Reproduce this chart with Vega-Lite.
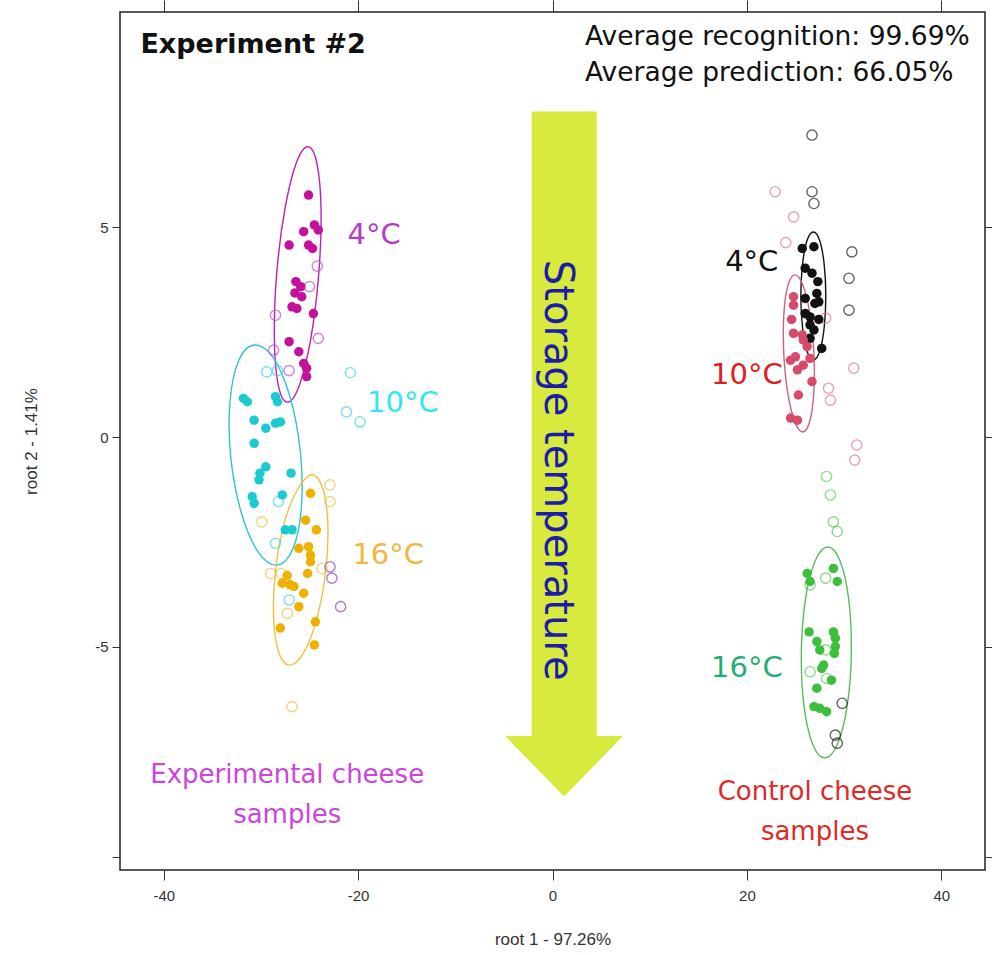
{
  "$schema": "https://vega.github.io/schema/vega-lite/v6.json",
  "width": 865,
  "height": 858,
  "autosize": {"type": "none"},
  "padding": {"left": 120, "top": 12, "right": 7, "bottom": 85},
  "background": "white",
  "config": {"view": {"stroke": "#222222", "strokeWidth": 1.5}, "font": "Liberation Sans"},
  "datasets": {
    "pts": [
      {"x": -25.1, "y": 5.76, "grp": "exp4", "set": "train"},
      {"x": -24.5, "y": 5.05, "grp": "exp4", "set": "train"},
      {"x": -24.1, "y": 4.93, "grp": "exp4", "set": "train"},
      {"x": -25.6, "y": 4.89, "grp": "exp4", "set": "train"},
      {"x": -27.1, "y": 4.57, "grp": "exp4", "set": "train"},
      {"x": -25.1, "y": 4.57, "grp": "exp4", "set": "train"},
      {"x": -24.7, "y": 4.49, "grp": "exp4", "set": "train"},
      {"x": -26.4, "y": 3.70, "grp": "exp4", "set": "train"},
      {"x": -25.9, "y": 3.58, "grp": "exp4", "set": "train"},
      {"x": -26.5, "y": 3.43, "grp": "exp4", "set": "train"},
      {"x": -25.8, "y": 3.34, "grp": "exp4", "set": "train"},
      {"x": -26.8, "y": 3.10, "grp": "exp4", "set": "train"},
      {"x": -26.3, "y": 3.06, "grp": "exp4", "set": "train"},
      {"x": -24.6, "y": 2.94, "grp": "exp4", "set": "train"},
      {"x": -27.1, "y": 2.27, "grp": "exp4", "set": "train"},
      {"x": -26.1, "y": 2.03, "grp": "exp4", "set": "train"},
      {"x": -25.6, "y": 1.75, "grp": "exp4", "set": "train"},
      {"x": -25.3, "y": 1.64, "grp": "exp4", "set": "train"},
      {"x": -25.3, "y": 1.44, "grp": "exp4", "set": "train"},
      {"x": -24.2, "y": 4.07, "grp": "exp4", "set": "test"},
      {"x": -25.0, "y": 3.58, "grp": "exp4", "set": "test"},
      {"x": -28.5, "y": 2.90, "grp": "exp4", "set": "test"},
      {"x": -24.1, "y": 2.35, "grp": "exp4", "set": "test"},
      {"x": -28.7, "y": 2.07, "grp": "exp4", "set": "test"},
      {"x": -27.1, "y": 1.58, "grp": "exp4", "set": "test"},
      {"x": -22.9, "y": -3.09, "grp": "exp4p", "set": "test"},
      {"x": -22.7, "y": -3.36, "grp": "exp4p", "set": "test"},
      {"x": -21.8, "y": -4.04, "grp": "exp4p", "set": "test"},
      {"x": -31.8, "y": 0.92, "grp": "exp10", "set": "train"},
      {"x": -31.4, "y": 0.84, "grp": "exp10", "set": "train"},
      {"x": -28.5, "y": 0.96, "grp": "exp10", "set": "train"},
      {"x": -28.3, "y": 0.84, "grp": "exp10", "set": "train"},
      {"x": -30.7, "y": 0.40, "grp": "exp10", "set": "train"},
      {"x": -29.5, "y": 0.21, "grp": "exp10", "set": "train"},
      {"x": -28.5, "y": 0.33, "grp": "exp10", "set": "train"},
      {"x": -28.0, "y": 0.36, "grp": "exp10", "set": "train"},
      {"x": -30.7, "y": -0.15, "grp": "exp10", "set": "train"},
      {"x": -29.5, "y": -0.71, "grp": "exp10", "set": "train"},
      {"x": -30.1, "y": -0.86, "grp": "exp10", "set": "train"},
      {"x": -30.2, "y": -1.02, "grp": "exp10", "set": "train"},
      {"x": -26.9, "y": -0.86, "grp": "exp10", "set": "train"},
      {"x": -30.9, "y": -1.42, "grp": "exp10", "set": "train"},
      {"x": -30.7, "y": -1.58, "grp": "exp10", "set": "train"},
      {"x": -27.8, "y": -1.38, "grp": "exp10", "set": "train"},
      {"x": -27.5, "y": -2.21, "grp": "exp10", "set": "train"},
      {"x": -26.8, "y": -2.21, "grp": "exp10", "set": "train"},
      {"x": -20.8, "y": 1.53, "grp": "exp10", "set": "test"},
      {"x": -21.2, "y": 0.60, "grp": "exp10", "set": "test"},
      {"x": -19.8, "y": 0.36, "grp": "exp10", "set": "test"},
      {"x": -29.4, "y": 1.55, "grp": "exp10", "set": "test"},
      {"x": -28.3, "y": 1.58, "grp": "exp10", "set": "test"},
      {"x": -28.2, "y": -1.54, "grp": "exp10", "set": "test"},
      {"x": -28.5, "y": -2.53, "grp": "exp10", "set": "test"},
      {"x": -27.1, "y": -3.88, "grp": "exp10", "set": "test"},
      {"x": -24.9, "y": -1.34, "grp": "exp16", "set": "train"},
      {"x": -25.4, "y": -1.98, "grp": "exp16", "set": "train"},
      {"x": -24.3, "y": -2.21, "grp": "exp16", "set": "train"},
      {"x": -26.1, "y": -2.65, "grp": "exp16", "set": "train"},
      {"x": -25.1, "y": -2.61, "grp": "exp16", "set": "train"},
      {"x": -24.9, "y": -2.81, "grp": "exp16", "set": "train"},
      {"x": -24.9, "y": -2.97, "grp": "exp16", "set": "train"},
      {"x": -27.8, "y": -3.48, "grp": "exp16", "set": "train"},
      {"x": -27.0, "y": -3.52, "grp": "exp16", "set": "train"},
      {"x": -26.6, "y": -3.56, "grp": "exp16", "set": "train"},
      {"x": -25.6, "y": -3.72, "grp": "exp16", "set": "train"},
      {"x": -26.1, "y": -4.04, "grp": "exp16", "set": "train"},
      {"x": -28.0, "y": -4.55, "grp": "exp16", "set": "train"},
      {"x": -24.4, "y": -4.40, "grp": "exp16", "set": "train"},
      {"x": -24.5, "y": -4.95, "grp": "exp16", "set": "train"},
      {"x": -27.3, "y": -3.30, "grp": "exp16", "set": "train"},
      {"x": -25.2, "y": -3.25, "grp": "exp16", "set": "train"},
      {"x": -22.9, "y": -1.14, "grp": "exp16", "set": "test"},
      {"x": -22.9, "y": -1.54, "grp": "exp16", "set": "test"},
      {"x": -29.0, "y": -3.25, "grp": "exp16", "set": "test"},
      {"x": -23.7, "y": -3.13, "grp": "exp16", "set": "test"},
      {"x": -27.3, "y": -4.20, "grp": "exp16", "set": "test"},
      {"x": -26.8, "y": -6.42, "grp": "exp16", "set": "test"},
      {"x": -29.9, "y": -2.02, "grp": "exp16", "set": "test"},
      {"x": -27.9, "y": -3.25, "grp": "exp16", "set": "test"},
      {"x": 25.7, "y": 4.49, "grp": "ctl4", "set": "train"},
      {"x": 26.9, "y": 4.53, "grp": "ctl4", "set": "train"},
      {"x": 26.0, "y": 4.02, "grp": "ctl4", "set": "train"},
      {"x": 26.7, "y": 3.90, "grp": "ctl4", "set": "train"},
      {"x": 27.3, "y": 3.70, "grp": "ctl4", "set": "train"},
      {"x": 27.2, "y": 3.42, "grp": "ctl4", "set": "train"},
      {"x": 26.0, "y": 3.30, "grp": "ctl4", "set": "train"},
      {"x": 27.0, "y": 3.18, "grp": "ctl4", "set": "train"},
      {"x": 27.4, "y": 3.22, "grp": "ctl4", "set": "train"},
      {"x": 26.0, "y": 2.94, "grp": "ctl4", "set": "train"},
      {"x": 26.5, "y": 2.86, "grp": "ctl4", "set": "train"},
      {"x": 27.4, "y": 2.80, "grp": "ctl4", "set": "train"},
      {"x": 26.5, "y": 2.67, "grp": "ctl4", "set": "train"},
      {"x": 26.9, "y": 2.55, "grp": "ctl4", "set": "train"},
      {"x": 26.5, "y": 2.35, "grp": "ctl4", "set": "train"},
      {"x": 27.7, "y": 2.11, "grp": "ctl4", "set": "train"},
      {"x": 26.7, "y": 7.19, "grp": "ctl4", "set": "test"},
      {"x": 26.7, "y": 5.84, "grp": "ctl4", "set": "test"},
      {"x": 26.9, "y": 5.56, "grp": "ctl4", "set": "test"},
      {"x": 30.8, "y": 4.41, "grp": "ctl4", "set": "test"},
      {"x": 30.5, "y": 3.78, "grp": "ctl4", "set": "test"},
      {"x": 30.5, "y": 3.02, "grp": "ctl4", "set": "test"},
      {"x": 29.8, "y": -6.34, "grp": "ctl4", "set": "test"},
      {"x": 29.1, "y": -7.10, "grp": "ctl4", "set": "test"},
      {"x": 29.3, "y": -7.29, "grp": "ctl4", "set": "test"},
      {"x": 24.8, "y": 3.34, "grp": "ctl10", "set": "train"},
      {"x": 24.8, "y": 3.14, "grp": "ctl10", "set": "train"},
      {"x": 24.6, "y": 2.80, "grp": "ctl10", "set": "train"},
      {"x": 24.8, "y": 2.47, "grp": "ctl10", "set": "train"},
      {"x": 25.7, "y": 2.43, "grp": "ctl10", "set": "train"},
      {"x": 25.8, "y": 2.31, "grp": "ctl10", "set": "train"},
      {"x": 26.2, "y": 2.15, "grp": "ctl10", "set": "train"},
      {"x": 24.5, "y": 1.83, "grp": "ctl10", "set": "train"},
      {"x": 25.0, "y": 1.91, "grp": "ctl10", "set": "train"},
      {"x": 26.5, "y": 1.87, "grp": "ctl10", "set": "train"},
      {"x": 25.8, "y": 1.71, "grp": "ctl10", "set": "train"},
      {"x": 25.2, "y": 1.60, "grp": "ctl10", "set": "train"},
      {"x": 26.7, "y": 1.32, "grp": "ctl10", "set": "train"},
      {"x": 25.3, "y": 1.00, "grp": "ctl10", "set": "train"},
      {"x": 24.5, "y": 0.45, "grp": "ctl10", "set": "train"},
      {"x": 25.2, "y": 0.40, "grp": "ctl10", "set": "train"},
      {"x": 22.9, "y": 5.84, "grp": "ctl10", "set": "test"},
      {"x": 24.8, "y": 5.24, "grp": "ctl10", "set": "test"},
      {"x": 24.0, "y": 4.63, "grp": "ctl10", "set": "test"},
      {"x": 28.1, "y": 2.83, "grp": "ctl10", "set": "test"},
      {"x": 31.0, "y": 1.64, "grp": "ctl10", "set": "test"},
      {"x": 28.4, "y": 1.16, "grp": "ctl10", "set": "test"},
      {"x": 28.6, "y": 0.88, "grp": "ctl10", "set": "test"},
      {"x": 31.3, "y": -0.19, "grp": "ctl10", "set": "test"},
      {"x": 31.1, "y": -0.55, "grp": "ctl10", "set": "test"},
      {"x": 26.2, "y": -3.25, "grp": "ctl16", "set": "train"},
      {"x": 26.5, "y": -3.44, "grp": "ctl16", "set": "train"},
      {"x": 28.9, "y": -3.13, "grp": "ctl16", "set": "train"},
      {"x": 29.3, "y": -3.44, "grp": "ctl16", "set": "train"},
      {"x": 26.4, "y": -4.64, "grp": "ctl16", "set": "train"},
      {"x": 28.9, "y": -4.64, "grp": "ctl16", "set": "train"},
      {"x": 29.1, "y": -4.79, "grp": "ctl16", "set": "train"},
      {"x": 29.1, "y": -4.99, "grp": "ctl16", "set": "train"},
      {"x": 29.0, "y": -5.15, "grp": "ctl16", "set": "train"},
      {"x": 27.2, "y": -4.87, "grp": "ctl16", "set": "train"},
      {"x": 27.5, "y": -5.07, "grp": "ctl16", "set": "train"},
      {"x": 27.9, "y": -5.43, "grp": "ctl16", "set": "train"},
      {"x": 27.7, "y": -5.51, "grp": "ctl16", "set": "train"},
      {"x": 28.7, "y": -5.79, "grp": "ctl16", "set": "train"},
      {"x": 27.2, "y": -5.98, "grp": "ctl16", "set": "train"},
      {"x": 26.9, "y": -6.42, "grp": "ctl16", "set": "train"},
      {"x": 27.5, "y": -6.46, "grp": "ctl16", "set": "train"},
      {"x": 28.2, "y": -6.54, "grp": "ctl16", "set": "train"},
      {"x": 28.2, "y": -0.94, "grp": "ctl16", "set": "test"},
      {"x": 28.6, "y": -1.38, "grp": "ctl16", "set": "test"},
      {"x": 28.9, "y": -2.02, "grp": "ctl16", "set": "test"},
      {"x": 29.3, "y": -2.25, "grp": "ctl16", "set": "test"},
      {"x": 26.5, "y": -3.52, "grp": "ctl16", "set": "test"},
      {"x": 28.1, "y": -3.36, "grp": "ctl16", "set": "test"},
      {"x": 26.5, "y": -5.59, "grp": "ctl16", "set": "test"},
      {"x": 28.2, "y": -5.75, "grp": "ctl16", "set": "test"},
      {"x": 28.1, "y": -5.07, "grp": "ctl16", "set": "test"}
    ],
    "ellipses": [
      {"grp": "exp4", "i": 0, "x": -25.14, "y": 6.91},
      {"grp": "exp4", "i": 1, "x": -24.21, "y": 6.48},
      {"grp": "exp4", "i": 2, "x": -23.81, "y": 5.35},
      {"grp": "exp4", "i": 3, "x": -24.07, "y": 3.83},
      {"grp": "exp4", "i": 4, "x": -24.89, "y": 2.31},
      {"grp": "exp4", "i": 5, "x": -26.08, "y": 1.21},
      {"grp": "exp4", "i": 6, "x": -27.30, "y": 0.83},
      {"grp": "exp4", "i": 7, "x": -28.24, "y": 1.26},
      {"grp": "exp4", "i": 8, "x": -28.62, "y": 2.39},
      {"grp": "exp4", "i": 9, "x": -28.37, "y": 3.91},
      {"grp": "exp4", "i": 10, "x": -27.54, "y": 5.42},
      {"grp": "exp4", "i": 11, "x": -26.37, "y": 6.52},
      {"grp": "exp10", "i": 0, "x": -30.69, "y": 2.19},
      {"grp": "exp10", "i": 1, "x": -28.75, "y": 1.89},
      {"grp": "exp10", "i": 2, "x": -27.01, "y": 0.96},
      {"grp": "exp10", "i": 3, "x": -25.95, "y": -0.34},
      {"grp": "exp10", "i": 4, "x": -25.83, "y": -1.66},
      {"grp": "exp10", "i": 5, "x": -26.69, "y": -2.65},
      {"grp": "exp10", "i": 6, "x": -28.33, "y": -3.05},
      {"grp": "exp10", "i": 7, "x": -30.27, "y": -2.74},
      {"grp": "exp10", "i": 8, "x": -32.01, "y": -1.81},
      {"grp": "exp10", "i": 9, "x": -33.09, "y": -0.51},
      {"grp": "exp10", "i": 10, "x": -33.19, "y": 0.81},
      {"grp": "exp10", "i": 11, "x": -32.33, "y": 1.80},
      {"grp": "exp16", "i": 0, "x": -24.73, "y": -0.90},
      {"grp": "exp16", "i": 1, "x": -23.62, "y": -1.24},
      {"grp": "exp16", "i": 2, "x": -23.11, "y": -2.10},
      {"grp": "exp16", "i": 3, "x": -23.36, "y": -3.24},
      {"grp": "exp16", "i": 4, "x": -24.29, "y": -4.36},
      {"grp": "exp16", "i": 5, "x": -25.67, "y": -5.16},
      {"grp": "exp16", "i": 6, "x": -27.10, "y": -5.43},
      {"grp": "exp16", "i": 7, "x": -28.22, "y": -5.09},
      {"grp": "exp16", "i": 8, "x": -28.71, "y": -4.24},
      {"grp": "exp16", "i": 9, "x": -28.46, "y": -3.10},
      {"grp": "exp16", "i": 10, "x": -27.52, "y": -1.98},
      {"grp": "exp16", "i": 11, "x": -26.16, "y": -1.22},
      {"grp": "ctl4", "i": 0, "x": 26.84, "y": 4.88},
      {"grp": "ctl4", "i": 1, "x": 27.49, "y": 4.68},
      {"grp": "ctl4", "i": 2, "x": 27.95, "y": 4.12},
      {"grp": "ctl4", "i": 3, "x": 28.12, "y": 3.36},
      {"grp": "ctl4", "i": 4, "x": 27.95, "y": 2.60},
      {"grp": "ctl4", "i": 5, "x": 27.49, "y": 2.04},
      {"grp": "ctl4", "i": 6, "x": 26.84, "y": 1.83},
      {"grp": "ctl4", "i": 7, "x": 26.19, "y": 2.04},
      {"grp": "ctl4", "i": 8, "x": 25.73, "y": 2.60},
      {"grp": "ctl4", "i": 9, "x": 25.55, "y": 3.36},
      {"grp": "ctl4", "i": 10, "x": 25.73, "y": 4.12},
      {"grp": "ctl4", "i": 11, "x": 26.19, "y": 4.68},
      {"grp": "ctl10", "i": 0, "x": 24.94, "y": 3.86},
      {"grp": "ctl10", "i": 1, "x": 25.76, "y": 3.62},
      {"grp": "ctl10", "i": 2, "x": 26.48, "y": 2.94},
      {"grp": "ctl10", "i": 3, "x": 26.89, "y": 2.01},
      {"grp": "ctl10", "i": 4, "x": 26.89, "y": 1.07},
      {"grp": "ctl10", "i": 5, "x": 26.48, "y": 0.38},
      {"grp": "ctl10", "i": 6, "x": 25.76, "y": 0.12},
      {"grp": "ctl10", "i": 7, "x": 24.94, "y": 0.36},
      {"grp": "ctl10", "i": 8, "x": 24.21, "y": 1.04},
      {"grp": "ctl10", "i": 9, "x": 23.80, "y": 1.97},
      {"grp": "ctl10", "i": 10, "x": 23.80, "y": 2.91},
      {"grp": "ctl10", "i": 11, "x": 24.21, "y": 3.60},
      {"grp": "ctl16", "i": 0, "x": 28.33, "y": -2.62},
      {"grp": "ctl16", "i": 1, "x": 29.59, "y": -2.95},
      {"grp": "ctl16", "i": 2, "x": 30.48, "y": -3.87},
      {"grp": "ctl16", "i": 3, "x": 30.75, "y": -5.13},
      {"grp": "ctl16", "i": 4, "x": 30.33, "y": -6.39},
      {"grp": "ctl16", "i": 5, "x": 29.33, "y": -7.31},
      {"grp": "ctl16", "i": 6, "x": 28.02, "y": -7.64},
      {"grp": "ctl16", "i": 7, "x": 26.76, "y": -7.31},
      {"grp": "ctl16", "i": 8, "x": 25.87, "y": -6.39},
      {"grp": "ctl16", "i": 9, "x": 25.60, "y": -5.13},
      {"grp": "ctl16", "i": 10, "x": 26.02, "y": -3.87},
      {"grp": "ctl16", "i": 11, "x": 27.02, "y": -2.95}
    ],
    "shaft": [{"x1": -2.14, "x2": 4.55, "y1": 7.75, "y2": -7.16}],
    "head": [
      {"x": -4.88, "ytop": -7.12, "ybot": -7.12},
      {"x": 1.2, "ytop": -7.12, "ybot": -8.56},
      {"x": 7.25, "ytop": -7.12, "ybot": -7.12}
    ],
    "temps": [
      {"x": -18.35, "y": 4.81, "label": "4°C", "grp": "exp4"},
      {"x": -15.4, "y": 0.81, "label": "10°C", "grp": "exp10"},
      {"x": -16.9, "y": -2.81, "label": "16°C", "grp": "exp16"},
      {"x": 20.5, "y": 4.17, "label": "4°C", "grp": "ctl4"},
      {"x": 20.0, "y": 1.48, "label": "10°C", "grp": "ctl10"},
      {"x": 20.0, "y": -5.5, "label": "16°C", "grp": "ctl16"}
    ],
    "groups": [
      {"x": -27.3, "y": -8.05, "label": "Experimental cheese", "grp": "exp"},
      {"x": -27.3, "y": -9.0, "label": "samples", "grp": "exp"},
      {"x": 27.0, "y": -8.45, "label": "Control cheese", "grp": "ctl"},
      {"x": 27.0, "y": -9.4, "label": "samples", "grp": "ctl"}
    ],
    "title": [{"x": -42.4, "y": 9.33, "label": "Experiment #2"}],
    "stats": [
      {"x": 3.34, "y": 9.52, "label": "Average recognition: 99.69%"},
      {"x": 3.34, "y": 8.67, "label": "Average prediction: 66.05%"}
    ],
    "arrowtext": [{"x": 0.46, "y": -0.79, "label": "Storage temperature"}]
  },
  "resolve": {"scale": {"color": "independent"}, "axis": {"x": "independent", "y": "independent"}},
  "layer": [
    {
      "data": {"name": "shaft"},
      "mark": {"type": "rect", "color": "#d8ea3e"},
      "encoding": {
        "x": {"field": "x1", "type": "quantitative", "scale": {"domain": [-44.5, 44.5], "nice": false, "zero": false}, "axis": null},
        "x2": {"field": "x2"},
        "y": {"field": "y1", "type": "quantitative", "scale": {"domain": [-10.31, 10.12], "nice": false, "zero": false}, "axis": null},
        "y2": {"field": "y2"}
      }
    },
    {
      "data": {"name": "head"},
      "mark": {"type": "area", "orient": "vertical", "color": "#d8ea3e", "interpolate": "linear"},
      "encoding": {
        "x": {"field": "x", "type": "quantitative", "axis": null},
        "y": {"field": "ytop", "type": "quantitative", "axis": null},
        "y2": {"field": "ybot"}
      }
    },
    {
      "data": {"name": "arrowtext"},
      "mark": {"type": "text", "angle": 90, "align": "center", "baseline": "middle", "font": "DejaVu Sans", "fontSize": 40, "color": "#1c1caa"},
      "encoding": {
        "x": {"field": "x", "type": "quantitative", "axis": null},
        "y": {"field": "y", "type": "quantitative", "axis": null},
        "text": {"field": "label"}
      }
    },
    {
      "data": {"name": "ellipses"},
      "mark": {"type": "line", "interpolate": "cardinal-closed", "strokeWidth": 1.4},
      "encoding": {
        "x": {"field": "x", "type": "quantitative", "axis": null},
        "y": {"field": "y", "type": "quantitative", "axis": null},
        "detail": {"field": "grp"},
        "order": {"field": "i", "type": "quantitative"},
        "color": {"field": "grp", "type": "nominal", "legend": null,
          "scale": {"domain": ["exp4", "exp10", "exp16", "ctl4", "ctl10", "ctl16"],
                    "range": ["#c020b4", "#30c4d4", "#f0c040", "#111111", "#d06080", "#58bf58"]}}
      }
    },
    {
      "data": {"name": "pts"},
      "transform": [{"filter": "datum.set == 'test'"}],
      "mark": {"type": "point", "shape": "circle", "filled": false, "size": 105, "strokeWidth": 1.4},
      "encoding": {
        "x": {"field": "x", "type": "quantitative",
          "axis": {"orient": "top", "values": [-40, -20, 0, 20, 40], "labels": false, "domain": false, "grid": false, "tickSize": 12, "tickColor": "#333333", "title": null}},
        "y": {"field": "y", "type": "quantitative",
          "axis": {"orient": "right", "values": [-10, -5, 0, 5], "labels": false, "domain": false, "grid": false, "tickSize": 7, "tickColor": "#333333", "title": null}},
        "color": {"field": "grp", "type": "nominal", "legend": null,
          "scale": {"domain": ["exp4", "exp4p", "exp10", "exp16", "ctl4", "ctl10", "ctl16"],
                    "range": ["#c050c4", "#9040c0", "#40d4e0", "#f0c050", "#222222", "#e07890", "#66c466"]}}
      }
    },
    {
      "data": {"name": "pts"},
      "transform": [{"filter": "datum.set == 'train'"}],
      "mark": {"type": "point", "shape": "circle", "filled": true, "size": 90, "opacity": 1},
      "encoding": {
        "x": {"field": "x", "type": "quantitative",
          "axis": {"orient": "bottom", "values": [-40, -20, 0, 20, 40], "domain": false, "grid": false, "tickSize": 10, "tickColor": "#333333",
            "labelFont": "Liberation Sans", "labelFontSize": 15, "labelColor": "#333333", "labelPadding": 8,
            "labelExpr": "datum.value < 0 ? '-' + abs(datum.value) : '' + datum.value",
            "title": "root 1 - 97.26%", "titleFont": "Liberation Sans", "titleFontSize": 17, "titleFontWeight": "normal", "titleColor": "#333333", "titlePadding": 28}},
        "y": {"field": "y", "type": "quantitative",
          "axis": {"orient": "left", "values": [-10, -5, 0, 5], "domain": false, "grid": false, "tickSize": 8, "tickColor": "#333333",
            "labelFont": "Liberation Sans", "labelFontSize": 15, "labelColor": "#333333", "labelPadding": 4, "labelAngle": 0,
            "labelExpr": "datum.value == -10 ? '' : (datum.value < 0 ? '-' + abs(datum.value) : '' + datum.value)",
            "title": "root 2 - 1.41%", "titleFont": "Liberation Sans", "titleFontSize": 17, "titleFontWeight": "normal", "titleColor": "#333333", "titlePadding": 54}},
        "color": {"field": "grp", "type": "nominal", "legend": null,
          "scale": {"domain": ["exp4", "exp10", "exp16", "ctl4", "ctl10", "ctl16"],
                    "range": ["#c4119c", "#1ecad2", "#f0b000", "#111111", "#d64a6a", "#3cbf3c"]}}
      }
    },
    {
      "data": {"name": "temps"},
      "mark": {"type": "text", "align": "center", "baseline": "middle", "font": "DejaVu Sans", "fontSize": 29},
      "encoding": {
        "x": {"field": "x", "type": "quantitative", "axis": null},
        "y": {"field": "y", "type": "quantitative", "axis": null},
        "text": {"field": "label"},
        "color": {"field": "grp", "type": "nominal", "legend": null,
          "scale": {"domain": ["exp4", "exp10", "exp16", "ctl4", "ctl10", "ctl16"],
                    "range": ["#b43cc8", "#33e4f4", "#f0b83c", "#111111", "#e0201e", "#1fae74"]}}
      }
    },
    {
      "data": {"name": "groups"},
      "mark": {"type": "text", "align": "center", "baseline": "middle", "font": "DejaVu Sans", "fontSize": 26},
      "encoding": {
        "x": {"field": "x", "type": "quantitative", "axis": null},
        "y": {"field": "y", "type": "quantitative", "axis": null},
        "text": {"field": "label"},
        "color": {"field": "grp", "type": "nominal", "legend": null,
          "scale": {"domain": ["exp", "ctl"], "range": ["#cc44dd", "#e02828"]}}
      }
    },
    {
      "data": {"name": "title"},
      "mark": {"type": "text", "align": "left", "baseline": "middle", "font": "DejaVu Sans", "fontSize": 27, "fontWeight": "bold", "color": "#111111"},
      "encoding": {
        "x": {"field": "x", "type": "quantitative", "axis": null},
        "y": {"field": "y", "type": "quantitative", "axis": null},
        "text": {"field": "label"}
      }
    },
    {
      "data": {"name": "stats"},
      "mark": {"type": "text", "align": "left", "baseline": "middle", "font": "DejaVu Sans", "fontSize": 26.5, "color": "#111111"},
      "encoding": {
        "x": {"field": "x", "type": "quantitative", "axis": null},
        "y": {"field": "y", "type": "quantitative", "axis": null},
        "text": {"field": "label"}
      }
    }
  ]
}
